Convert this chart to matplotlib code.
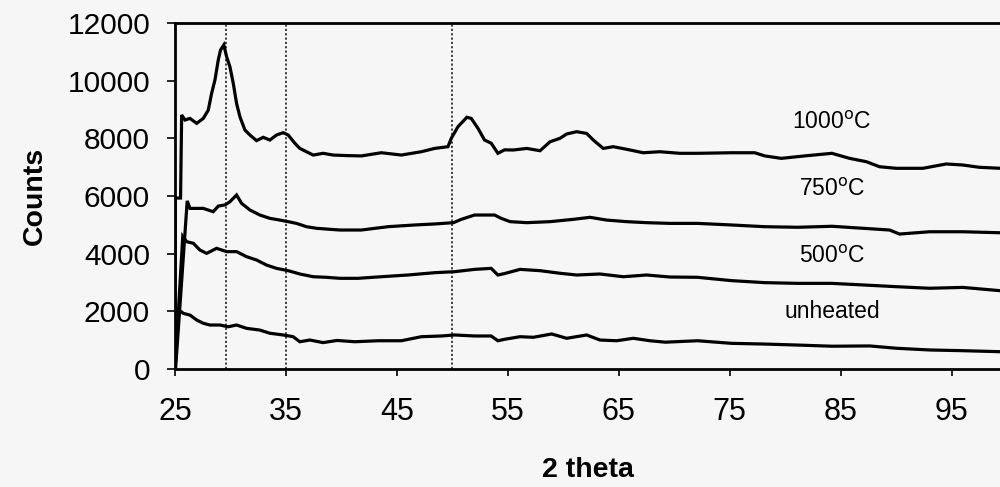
import matplotlib
matplotlib.use("Agg")
import matplotlib.pyplot as plt

plt.rcParams['font.family'] = ['Liberation Sans', 'DejaVu Sans']

# 2-theta positions and counts for each heat treatment
theta_1000 = [25.0, 25.02, 25.5, 25.6, 25.9, 26.35, 26.95, 27.55, 28.0, 28.3, 28.6, 28.9, 29.1, 29.4,
              29.65, 29.95, 30.25, 30.55, 30.85, 31.3, 31.75, 32.35, 32.95, 33.55, 34.15, 34.75,
              35.2, 35.8, 36.25, 36.85, 37.45, 38.35, 39.25, 40.6, 41.8, 43.6, 45.4, 47.2, 48.4,
              49.6, 49.9, 50.5, 51.3, 51.7, 52.3, 52.9, 53.5, 54.1, 54.7, 55.5, 56.7, 57.9, 58.8,
              59.7, 60.3, 61.2, 62.1, 62.7, 63.6, 64.5, 65.7, 67.2, 68.7, 70.5, 72.1, 75.15,
              77.25, 78.15, 79.65, 81.75, 84.2, 85.8, 87.3, 88.5, 90.0, 92.4, 94.5, 96.0, 97.5, 99.4]
counts_1000 = [0, 5930, 5930, 8810, 8635, 8690, 8520, 8690, 8980, 9560, 10020, 10720, 11060, 11240,
               10830, 10480, 9910, 9210, 8750, 8290, 8115, 7920, 8035, 7940, 8115, 8195,
               8115, 7830, 7650, 7535, 7420, 7480, 7420, 7400, 7390, 7500, 7420, 7535, 7650,
               7710, 8000, 8400, 8730, 8690, 8350, 7940, 7830, 7480, 7600, 7595, 7650, 7570, 7880,
               8000, 8150, 8230, 8170, 7940, 7650, 7710, 7620, 7500, 7535, 7480, 7480, 7500,
               7500, 7390, 7305, 7390, 7480, 7305, 7190, 7015, 6960, 6960, 7110, 7075, 6995, 6960]

theta_750 = [25.05, 26.1, 26.35, 27.55, 28.45, 28.9, 29.5, 29.95, 30.55, 31.0, 31.75, 32.65, 33.55,
             34.45, 35.2, 35.95, 36.85, 37.75, 38.95, 39.85, 41.8, 44.2, 46.6, 48.4, 50.1, 50.8,
             52.0, 53.8, 54.4, 55.2, 56.7, 58.8, 60.9, 62.4, 63.9, 65.7, 67.5, 69.6, 72.1, 75.15,
             78.15, 81.15, 84.2, 87.0, 89.4, 90.3, 93.0, 96.0, 99.4]
counts_750 = [0, 5830, 5570, 5570, 5455, 5650, 5690, 5800, 6035, 5745, 5515, 5340, 5225,
              5165, 5110, 5050, 4935, 4880, 4845, 4820, 4820, 4935, 4995, 5030, 5075, 5190,
              5340, 5340, 5225, 5110, 5075, 5110, 5190, 5260, 5165, 5110, 5075, 5050, 5050, 4995,
              4935, 4915, 4950, 4880, 4820, 4680, 4760, 4760, 4725]

theta_500 = [25.0, 25.7, 26.05, 26.65, 27.25, 27.85, 28.75, 29.65, 30.55, 31.45, 32.35, 33.25,
             34.15, 35.2, 36.25, 37.45, 38.65, 39.85, 41.5, 43.6, 46.0, 48.4, 50.2, 52.0, 53.5,
             54.1, 54.7, 56.1, 57.9, 59.7, 61.2, 63.3, 65.4, 67.5, 69.6, 72.1, 75.15, 78.15,
             81.15, 84.2, 87.0, 90.0, 93.0, 96.0, 99.4]
counts_500 = [0, 4600, 4415, 4360, 4125, 4010, 4185, 4070, 4070, 3895, 3780, 3605,
              3490, 3410, 3295, 3200, 3180, 3145, 3145, 3200, 3260, 3340, 3375, 3455, 3490,
              3260, 3310, 3455, 3410, 3320, 3260, 3295, 3200, 3260, 3190, 3180, 3065, 2995,
              2970, 2970, 2915, 2855, 2800, 2830, 2715]

theta_unheated = [25.0, 25.35, 25.75, 26.35, 26.95, 27.55, 28.15, 29.05, 29.8, 30.55, 31.45, 32.65,
                  33.55, 34.75, 35.65, 36.25, 37.15, 38.35, 39.6, 41.2, 43.3, 45.4, 47.2, 49.0,
                  50.2, 52.0, 53.5, 54.1, 54.7, 56.1, 57.3, 58.95, 60.3, 62.1, 63.3, 64.8, 66.3,
                  67.8, 69.2, 72.1, 75.15, 78.15, 81.15, 84.2, 87.6, 90.0, 93.0, 96.0, 99.4]
counts_unheated = [0, 2050, 1930, 1870, 1700, 1585, 1525, 1525, 1465, 1525, 1410, 1350,
                   1240, 1180, 1120, 945, 1005, 915, 990, 945, 980, 980, 1120, 1145,
                   1180, 1145, 1145, 980, 1030, 1120, 1100, 1215, 1065, 1180, 1005, 980, 1065,
                   980, 930, 980, 890, 865, 830, 790, 800, 720, 660, 635, 600]

series = [
    (theta_1000, counts_1000),
    (theta_750, counts_750),
    (theta_500, counts_500),
    (theta_unheated, counts_unheated),
]

# curve labels and where they sit
label_texts = ['1000$^{\\rm o}$C', '750$^{\\rm o}$C', '500$^{\\rm o}$C', 'unheated']
label_x = [84.2, 84.2, 84.2, 84.2]
label_y = [8560, 6210, 3885, 2010]

# reference positions
ref_lines = [29.6, 35.0, 50.0]

x_ticks = [25, 35, 45, 55, 65, 75, 85, 95]
y_ticks = [0, 2000, 4000, 6000, 8000, 10000, 12000]

bg = '#f6f6f6'
fig = plt.figure(figsize=(10, 4.87), dpi=100, facecolor=bg)
ax = fig.add_axes([0.175, 0.2423, 0.8255, 0.7105])
ax.set_facecolor(bg)

for xv in ref_lines:
    ax.axvline(xv, color='#333333', linestyle=(0, (1.2, 1.2)), linewidth=1.3, zorder=1)

for xs, ys in series:
    ax.plot(xs, ys, color='black', linewidth=2.3, solid_joinstyle='miter', zorder=3)

for t, lx, ly in zip(label_texts, label_x, label_y):
    ax.text(lx, ly, t, fontsize=16.5, ha='center', va='center', color='black')

ax.set_xlim(25, 99.4)
ax.set_ylim(0, 12000)
ax.set_xticks(x_ticks)
ax.set_yticks(y_ticks)
ax.set_xticklabels([str(v) for v in x_ticks], fontsize=22)
ax.set_yticklabels([str(v) for v in y_ticks], fontsize=21.5)
ax.tick_params(axis='x', direction='out', length=5, width=1.2, pad=15)
ax.tick_params(axis='y', direction='out', length=6, width=1.2, pad=12)

for side in ['left', 'top', 'bottom']:
    ax.spines[side].set_linewidth(2.0)
ax.spines['right'].set_visible(False)

ax.set_xlabel('2 theta', fontsize=20.5, fontweight='bold', labelpad=22)
ax.set_ylabel('Counts', fontsize=20.5, fontweight='bold', labelpad=14)

fig.savefig('out.png', dpi=100, facecolor=bg)
